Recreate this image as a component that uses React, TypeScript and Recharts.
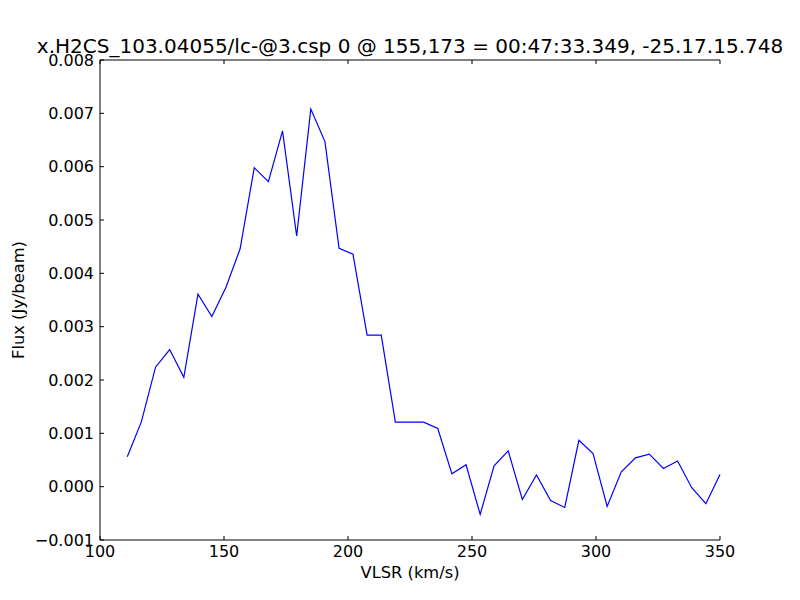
import { LineChart, Line, XAxis, YAxis, Label } from 'recharts';

const TITLE = 'x.H2CS_103.04055/lc-@3.csp 0 @ 155,173 = 00:47:33.349, -25.17.15.748';

// channel velocities (km/s)
const velocity = [
  111.0, 116.7, 122.4, 128.1, 133.8, 139.5, 145.1, 150.8, 156.5, 162.2, 167.9,
  173.6, 179.3, 185.0, 190.7, 196.4, 202.0, 207.7, 213.4, 219.1, 224.8, 230.5,
  236.2, 241.9, 247.6, 253.3, 258.9, 264.6, 270.3, 276.0, 281.7, 287.4, 293.1,
  298.8, 304.5, 310.2, 315.9, 321.5, 327.2, 332.9, 338.6, 344.3, 350.0,
];

// flux per channel (Jy/beam)
const flux = [
  0.00056, 0.00122, 0.00224, 0.00257, 0.00205, 0.00361, 0.00319, 0.00374,
  0.00446, 0.00598, 0.00572, 0.00667, 0.0047, 0.00708, 0.00647, 0.00447,
  0.00436, 0.00284, 0.00284, 0.00121, 0.00121, 0.00121, 0.00109, 0.00024,
  0.00041, -0.00052, 0.00039, 0.00067, -0.00024, 0.00022, -0.00026, -0.00039,
  0.00087, 0.00062, -0.00037, 0.00028, 0.00054, 0.00061, 0.00034, 0.00048,
  -0.00002, -0.00032, 0.00023,
];

const xTicks = [100, 150, 200, 250, 300, 350];
const yTicks = [-0.001, 0, 0.001, 0.002, 0.003, 0.004, 0.005, 0.006, 0.007, 0.008];

const data = velocity.map((v, i) => ({ v, f: flux[i] }));

const FONT = '"DejaVu Sans", sans-serif';
const tickStyle = { fontSize: 16, fill: '#000', fontFamily: FONT };

function fmtFlux(val: number): string {
  const s = Math.abs(val).toFixed(3);
  return val < -1e-9 ? '\u2212' + s : s;
}

const noTick = () => <g />;

export default function App() {
  return (
    <div style={{ width: 800, height: 600, background: '#fff' }}>
      <style>{'body{margin:0}'}</style>
      <LineChart
        width={800}
        height={600}
        data={data}
        margin={{ top: 0, right: 80, bottom: 0, left: 0 }}
      >
        <XAxis
          dataKey="v"
          type="number"
          domain={[100, 350]}
          ticks={xTicks}
          height={60}
          stroke="#000"
          tickSize={-4}
          tickMargin={10}
          tick={tickStyle}
        >
          <Label
            content={({ viewBox }: any) => (
              <text
                x={viewBox.x + viewBox.width / 2}
                y={578}
                textAnchor="middle"
                fontSize={16.3}
                fontFamily={FONT}
                fill="#000"
              >
                VLSR (km/s)
              </text>
            )}
          />
        </XAxis>
        <XAxis
          xAxisId="top"
          orientation="top"
          dataKey="v"
          type="number"
          domain={[100, 350]}
          ticks={xTicks}
          height={60}
          stroke="#000"
          tickSize={-4}
          tick={noTick}
        >
          <Label
            content={({ viewBox }: any) => (
              <text
                x={viewBox.x + viewBox.width / 2}
                y={53}
                textAnchor="middle"
                fontSize={20}
                fontFamily={FONT}
                fill="#000"
              >
                {TITLE}
              </text>
            )}
          />
        </XAxis>
        <YAxis
          type="number"
          domain={[-0.001, 0.008]}
          ticks={yTicks}
          width={100}
          stroke="#000"
          tickSize={-4}
          tickMargin={10}
          tick={tickStyle}
          tickFormatter={fmtFlux}
        >
          <Label
            content={({ viewBox }: any) => (
              <text
                x={24}
                y={viewBox.y + viewBox.height / 2}
                transform={`rotate(-90, 24, ${viewBox.y + viewBox.height / 2})`}
                textAnchor="middle"
                fontSize={16.3}
                fontFamily={FONT}
                fill="#000"
              >
                Flux (Jy/beam)
              </text>
            )}
          />
        </YAxis>
        <YAxis
          yAxisId="right"
          orientation="right"
          type="number"
          domain={[-0.001, 0.008]}
          ticks={yTicks}
          width={0}
          stroke="#000"
          tickSize={-4}
          tick={noTick}
        />
        <Line
          dataKey="f"
          type="linear"
          stroke="#0000ff"
          strokeWidth={1.2}
          dot={false}
          isAnimationActive={false}
        />
      </LineChart>
    </div>
  );
}
